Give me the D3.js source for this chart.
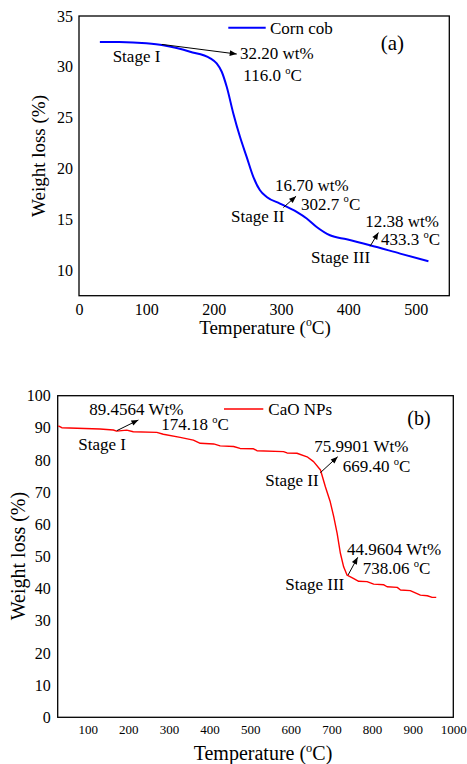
<!DOCTYPE html>
<html><head><meta charset="utf-8">
<script src="https://cdn.jsdelivr.net/npm/d3@7"></script>
<style>
html,body{margin:0;padding:0;background:#fff;}
svg{display:block;}
text{font-family:"Liberation Serif","Times New Roman",serif;fill:#000;}
</style></head>
<body>
<script>
// ---------- Panel (a): Corn cob ----------
const cornTemp = [31, 60, 100, 125, 145, 165, 195, 204.5, 212, 219.4, 229.2, 239.1, 249, 258.9, 268.8, 278.8, 298.5, 323.3, 338.2, 353, 372.8, 397.6, 432.2, 477, 519];
const cornWeight = [32.45, 32.44, 32.31, 32.12, 31.85, 31.49, 30.84, 30.34, 29.52, 28.04, 25.42, 23.12, 21.15, 19.18, 17.87, 17.21, 16.56, 15.74, 15.09, 14.26, 13.44, 13.05, 12.46, 11.64, 10.88];
const aXTicks = [0, 100, 200, 300, 400, 500];
const aYTicks = [10, 15, 20, 25, 30, 35];

// ---------- Panel (b): CaO NPs ----------
const caoTemp = [27.5, 36, 130, 163, 171, 196, 212, 270, 286, 327.5, 360, 377, 410, 426, 459, 475, 508, 516.6, 582, 590.6, 615, 640, 656, 673, 685, 697, 705.6, 714, 722, 730, 738.5, 755, 767, 787.6, 804, 829, 837, 862, 870, 894, 919, 936, 948, 958];
const caoWeight = [90.6, 90.05, 89.64, 89.33, 89.0, 89.3, 88.8, 88.6, 88.0, 87.06, 86.2, 85.2, 85.0, 84.4, 84.2, 83.6, 83.5, 82.9, 82.6, 82.2, 82.1, 81.0, 79.5, 76.9, 71.7, 67.0, 62.4, 57.2, 51.0, 46.8, 44.2, 43.1, 42.3, 42.2, 41.4, 41.2, 40.6, 40.4, 39.6, 39.4, 38.0, 37.8, 37.3, 37.3];
const bXTicks = [100, 200, 300, 400, 500, 600, 700, 800, 900, 1000];
const bYTicks = [0, 10, 20, 30, 40, 50, 60, 70, 80, 90, 100];

// annotations in data units
const aTexts = [
  {x: 50, y: 30.5, t: "Stage I"},
  {x: 239.2, y: 30.74, t: "32.20 wt%"},
  {x: 244.1, y: 28.63, t: "116.0 ", deg: true},
  {x: 291.2, y: 17.8, t: "16.70 wt%"},
  {x: 329.9, y: 15.97, t: "302.7 ", deg: true},
  {x: 225.9, y: 14.75, t: "Stage II"},
  {x: 425, y: 14.3, t: "12.38 wt%"},
  {x: 448.7, y: 12.45, t: "433.3 ", deg: true},
  {x: 344.7, y: 10.72, t: "Stage III"}
];
const aArrows = [
  {x1: 122.9, y1: 32.21, x2: 234.3, y2: 31.26},
  {x1: 303.6, y1: 16.17, x2: 322.4, y2: 17.28},
  {x1: 432.4, y1: 12.36, x2: 444.7, y2: 13.71}
];
const bTexts = [
  {x: 103.9, y: 94.0, t: "89.4564 Wt%"},
  {x: 280.7, y: 89.33, t: "174.18 ", deg: true},
  {x: 76.8, y: 83.1, t: "Stage I"},
  {x: 657.9, y: 82.59, t: "75.9901 Wt%"},
  {x: 727.7, y: 76.37, t: "669.40 ", deg: true},
  {x: 537.1, y: 71.92, t: "Stage II"},
  {x: 738.5, y: 50.6, t: "44.9604 Wt%"},
  {x: 777, y: 44.6, t: "738.06 ", deg: true},
  {x: 586.2, y: 39.58, t: "Stage III"}
];
const bArrows = [
  {x1: 171.5, y1: 89.12, x2: 224.7, y2: 92.44},
  {x1: 672.7, y1: 76.06, x2: 715.4, y2: 81.03},
  {x1: 741, y1: 44.25, x2: 764.7, y2: 49.75}
];

const W = 467, H = 764;
const svg = d3.select("body").append("svg").attr("width", W).attr("height", H);
svg.append("rect").attr("width", W).attr("height", H).attr("fill", "#fff");

const defs = svg.append("defs");
defs.append("marker").attr("id", "arr").attr("viewBox", "0 -5 10 10")
  .attr("refX", 10).attr("refY", 0).attr("markerUnits", "userSpaceOnUse")
  .attr("markerWidth", 9).attr("markerHeight", 7).attr("orient", "auto")
  .append("path").attr("d", "M0,-4L10,0L0,4Z").attr("fill", "#000");

function addDegText(g, x, y, base, size) {
  const t = g.append("text").attr("x", x).attr("y", y).attr("font-size", size);
  t.append("tspan").text(base);
  t.append("tspan").attr("font-size", size * 0.62).attr("dy", -size * 0.42).text("o");
  t.append("tspan").attr("dy", size * 0.42).text("C");
  return t;
}

function panel(o) {
  const g = svg.append("g");
  const x = d3.scaleLinear().domain(o.xDomain).range([o.left, o.right]);
  const y = d3.scaleLinear().domain(o.yDomain).range([o.bottom, o.top]);

  // axes (no tick marks)
  const xa = g.append("g").attr("transform", `translate(0,${o.bottom})`)
    .call(d3.axisBottom(x).tickValues(o.xTicks).tickSize(0).tickPadding(o.xPad).tickFormat(d3.format("d")));
  xa.select(".domain").remove();
  xa.selectAll("text").attr("font-size", o.xTickSize).attr("font-family", o.xTickFont).attr("fill", "#000");
  const ya = g.append("g").attr("transform", `translate(${o.left},0)`)
    .call(d3.axisLeft(y).tickValues(o.yTicks).tickSize(0).tickPadding(o.yPad).tickFormat(d3.format("d")));
  ya.select(".domain").remove();
  ya.selectAll("text").attr("font-size", o.yTickSize).attr("font-family", '"Liberation Serif",serif').attr("fill", "#000");

  // frame
  g.append("rect").attr("x", o.left).attr("y", o.top)
    .attr("width", o.right - o.left).attr("height", o.bottom - o.top)
    .attr("fill", "none").attr("stroke", "#000").attr("stroke-width", 1.3);

  // curve
  const data = o.xs.map((d, i) => [d, o.ys[i]]);
  g.append("path").datum(data)
    .attr("d", d3.line().x(d => x(d[0])).y(d => y(d[1])).curve(o.curve))
    .attr("fill", "none").attr("stroke", o.color).attr("stroke-width", o.sw)
    .attr("stroke-linejoin", "round");

  // legend
  g.append("line").attr("x1", o.legX1).attr("x2", o.legX2).attr("y1", o.legY).attr("y2", o.legY)
    .attr("stroke", o.color).attr("stroke-width", o.legSW);
  g.append("text").attr("x", o.legTX).attr("y", o.legTY).attr("font-size", 17).text(o.legend);
  g.append("text").attr("x", o.tagX).attr("y", o.tagY).attr("font-size", o.tagSize).text(o.tag);

  // annotations
  o.texts.forEach(a => {
    if (a.deg) addDegText(g, x(a.x), y(a.y), a.t, 17);
    else g.append("text").attr("x", x(a.x)).attr("y", y(a.y)).attr("font-size", 17).text(a.t);
  });
  o.arrows.forEach(a => {
    g.append("line").attr("x1", x(a.x1)).attr("y1", y(a.y1)).attr("x2", x(a.x2)).attr("y2", y(a.y2))
      .attr("stroke", "#000").attr("stroke-width", 1).attr("marker-end", "url(#arr)");
  });

  // axis titles
  const xt = addDegText(g, o.xTitleX, o.xTitleY, "Temperature (", o.titleSize);
  xt.append("tspan").text(")");
  xt.attr("text-anchor", "middle");
  g.append("text").attr("transform", `translate(${o.yTitleX},${o.yTitleY}) rotate(-90)`)
    .attr("text-anchor", "middle").attr("font-size", o.titleSize).text("Weight loss (%)");
}

panel({
  left: 79, right: 449.3, top: 16, bottom: 295.7,
  xDomain: [0, 550], yDomain: [7.5, 35], xTicks: aXTicks, yTicks: aYTicks,
  xPad: 8, yPad: 6, xTickSize: 16, yTickSize: 16, xTickFont: '"Liberation Serif",serif',
  xs: cornTemp, ys: cornWeight, color: "#0000ff", sw: 2, curve: d3.curveMonotoneX,
  legX1: 228.3, legX2: 265.7, legY: 27.7, legTX: 270, legTY: 33.5, legSW: 2, legend: "Corn cob",
  tag: "(a)", tagX: 380.7, tagY: 50, tagSize: 21,
  texts: aTexts, arrows: aArrows,
  xTitleX: 265, xTitleY: 334, yTitleX: 44.5, yTitleY: 156, titleSize: 19
});

panel({
  left: 57.7, right: 453.3, top: 395.7, bottom: 717.3,
  xDomain: [26, 1000], yDomain: [0, 100], xTicks: bXTicks, yTicks: bYTicks,
  xPad: 7, yPad: 7, xTickSize: 13, yTickSize: 16, xTickFont: '"Liberation Sans",Arial,sans-serif',
  xs: caoTemp, ys: caoWeight, color: "#ff0000", sw: 1.4, curve: d3.curveLinear,
  legX1: 224, legX2: 263.3, legY: 409, legTX: 268.3, legTY: 414.5, legSW: 1.6, legend: "CaO NPs",
  tag: "(b)", tagX: 407.3, tagY: 425, tagSize: 20,
  texts: bTexts, arrows: bArrows,
  xTitleX: 263, xTitleY: 760, yTitleX: 25, yTitleY: 556, titleSize: 20
});
</script>
</body></html>
